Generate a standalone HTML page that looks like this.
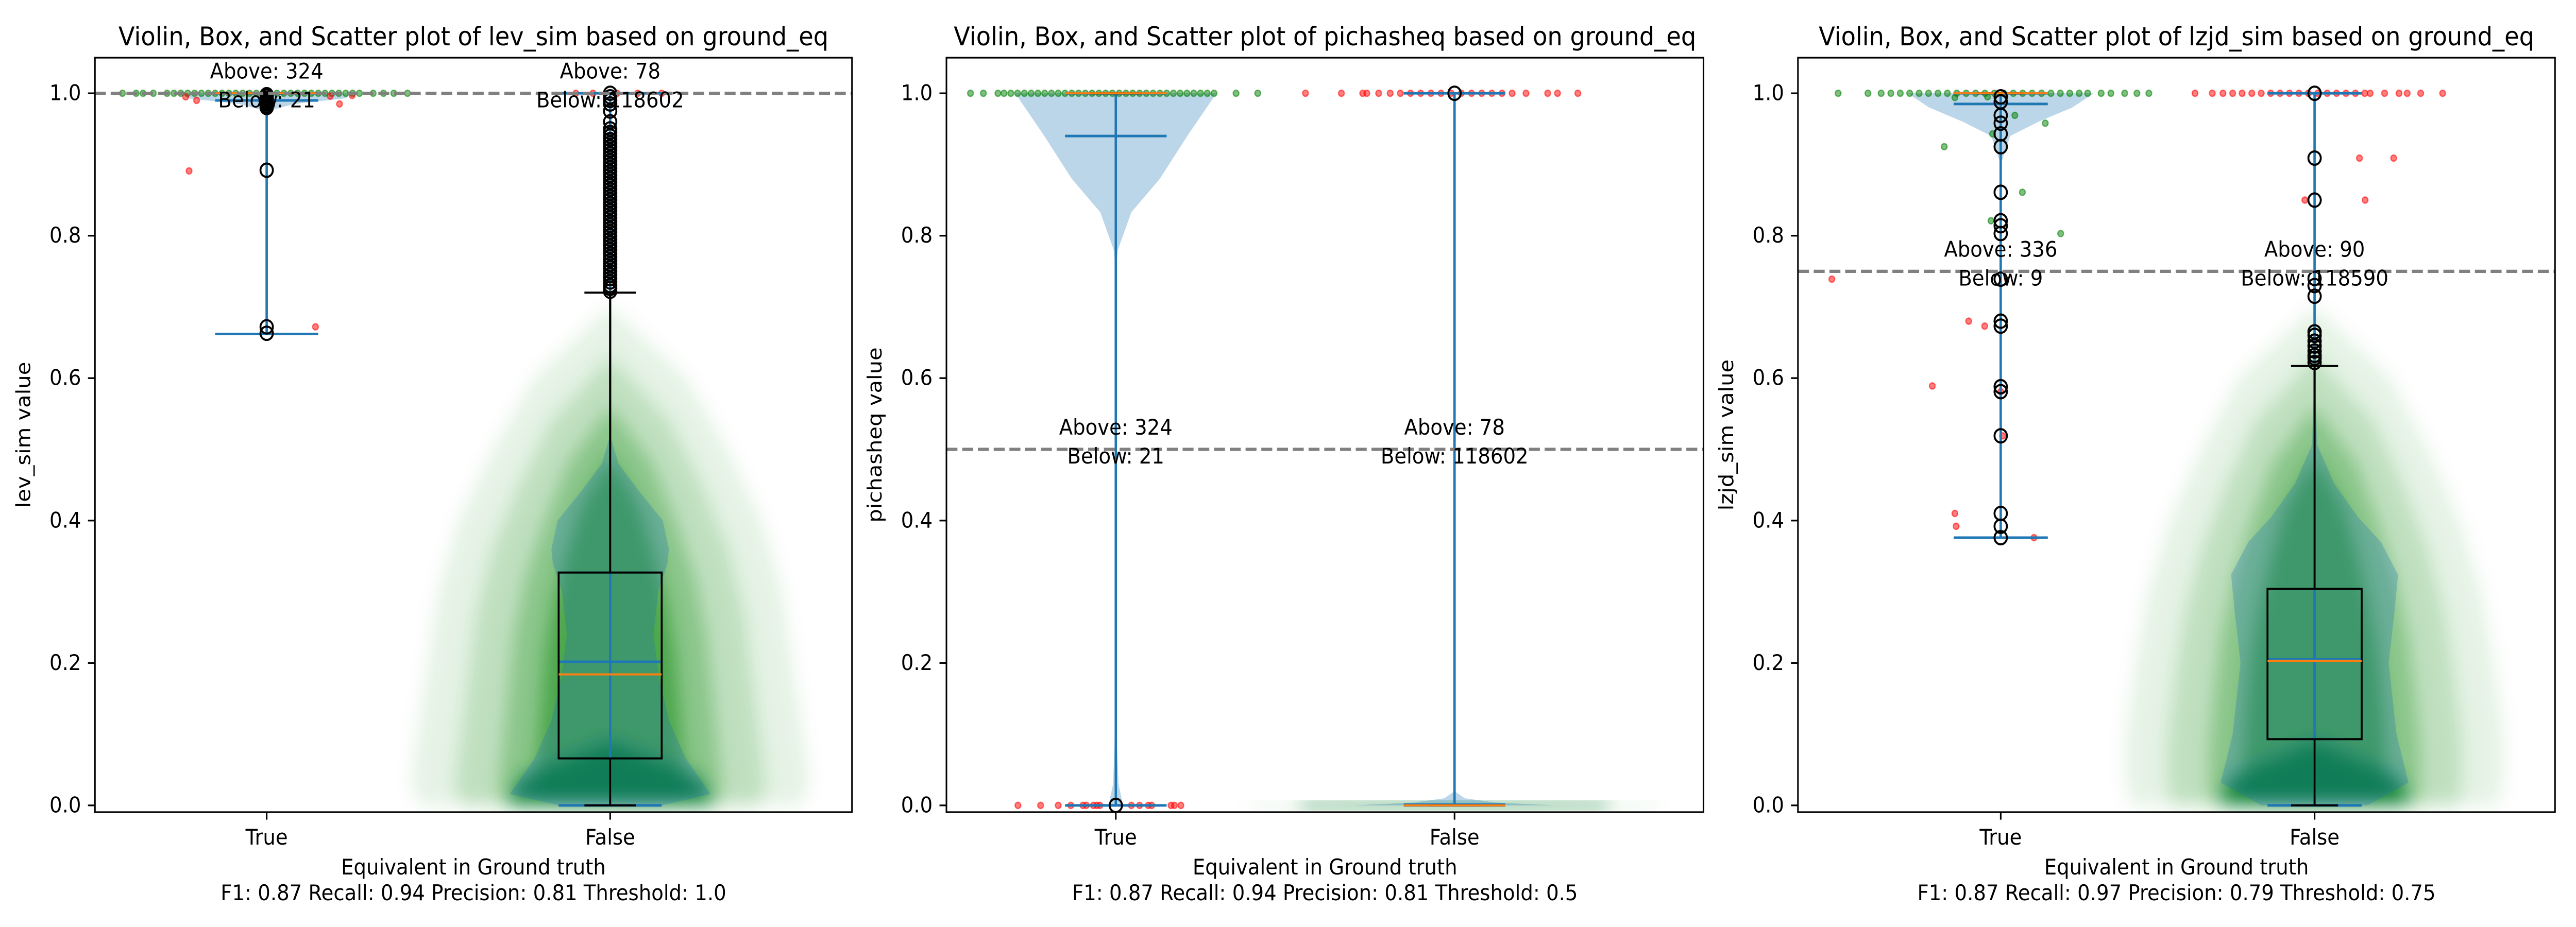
<!DOCTYPE html>
<html><head><meta charset="utf-8"><style>
html,body{margin:0;padding:0;background:#fff;width:100%;height:100%;overflow:hidden;}
svg{display:block;width:100vw;height:100vh;font-family:"DejaVu Sans","Liberation Sans",sans-serif;}
</style></head><body>
<svg id="fig" xmlns="http://www.w3.org/2000/svg" viewBox="0 0 5400 1800" preserveAspectRatio="none">
<defs>
<filter id="blur" x="-20%" y="-20%" width="140%" height="140%"><feGaussianBlur stdDeviation="18"/></filter>
<clipPath id="clip0"><rect x="199" y="112" width="1587" height="1465"/></clipPath>
<clipPath id="clip1"><rect x="1984" y="112" width="1587" height="1465"/></clipPath>
<clipPath id="clip2"><rect x="3769" y="112" width="1587" height="1465"/></clipPath>
</defs>
</svg>
<script>
// ---------- data ----------
const panelTitles = ["Violin, Box, and Scatter plot of lev_sim based on ground_eq","Violin, Box, and Scatter plot of pichasheq based on ground_eq","Violin, Box, and Scatter plot of lzjd_sim based on ground_eq"];
const yLabels = ["lev_sim value","pichasheq value","lzjd_sim value"];
const metricLines = ["F1: 0.87 Recall: 0.94 Precision: 0.81 Threshold: 1.0","F1: 0.87 Recall: 0.94 Precision: 0.81 Threshold: 0.5","F1: 0.87 Recall: 0.97 Precision: 0.79 Threshold: 0.75"];
const categories = ["True","False"];
const yTicks = [0,0.2,0.4,0.6,0.8,1.0];
const yTickLabels = ["0.0","0.2","0.4","0.6","0.8","1.0"];
const thresholds = [1.0,0.5,0.75];
const aboveCounts = [[324,78],[324,78],[336,90]];
const belowCounts = [[21,118602],[21,118602],[9,118590]];
const xDomains = [[0.5,2.704],[0.5,2.735],[0.354,2.766]];
const yDomain = [-0.0095,1.05];

// panel 1 (lev_sim)
const p1BoxQ1=[1.0,0.066], p1BoxMed=[1.0,0.184], p1BoxQ3=[1.0,0.327], p1WhiskLo=[1.0,0.0], p1WhiskHi=[1.0,0.72];
const p1VMin=[0.662,0], p1VMax=[1,1], p1VMean=[0.99,0.2017];
const p1TrueVVals=[0.662,0.975,0.985,0.993,1.0], p1TrueVHalf=[0,0.003,0.08,0.23,0.25];
const p1FalseVVals=[0,0.016,0.065,0.118,0.178,0.239,0.30,0.34,0.36,0.40,0.44,0.48,0.515,0.6,1.0];
const p1FalseVHalf=[0.149,0.292,0.221,0.172,0.143,0.126,0.14,0.167,0.171,0.153,0.086,0.024,0.003,0.001,0];
const p1TrueFliers=[0.998,0.996,0.993,0.99,0.987,0.985,0.982,0.98,0.892,0.672,0.663];
const p1FalseFliers=[0.722,0.726,0.73,0.735,0.74,0.745,0.75,0.755,0.76,0.765,0.77,0.775,0.78,0.785,0.79,0.795,0.80,0.805,0.81,0.815,0.82,0.825,0.83,0.835,0.84,0.845,0.85,0.855,0.86,0.865,0.87,0.875,0.88,0.885,0.89,0.895,0.90,0.905,0.91,0.915,0.92,0.925,0.93,0.935,0.94,0.945,0.95,0.96,0.975,0.985,0.99,0.995,1.0];
const p1CloudVals=[0,0.03,0.1,0.2,0.3,0.4,0.5,0.6,0.7];
const p1CloudHalf=[0.55,0.58,0.56,0.53,0.5,0.44,0.34,0.22,0];
const p1CoreVals=[0,0.04,0.09], p1CoreHalf=[0.3,0.26,0];
const p1GreenRowX=[-0.42,-0.38,-0.36,-0.33,-0.29,-0.27,-0.25,-0.23,-0.21,-0.19,-0.17,-0.15,-0.13,-0.11,-0.09,-0.07,-0.05,-0.03,-0.01,0.01,0.03,0.05,0.07,0.09,0.11,0.13,0.15,0.17,0.19,0.21,0.23,0.25,0.27,0.31,0.34,0.37,0.41];
const p1GreenRowY=1.0;
const p1RedX=[-0.236,-0.204,0.212,-0.226,0.185,0.249,0.142,-0.1,-0.05,0.02,0.08,0.15];
const p1RedY=[0.995,0.99,0.985,0.891,0.996,0.997,0.672,1.0,1.0,1.0,1.0,1.0];
const p1RedGroup=[0,0,0,0,0,0,0,1,1,1,1,1];

// panel 2 (pichasheq)
const p2BoxQ1=[1.0,0.0], p2BoxMed=[1.0,0.0], p2BoxQ3=[1.0,0.0], p2WhiskLo=[1.0,0.0], p2WhiskHi=[1.0,0.0];
const p2VMin=[0,0], p2VMax=[1,1], p2VMean=[0.94,0.001];
const p2TrueVVals=[0,0.01,0.03,0.08,0.15,0.22,0.3,0.75,0.78,0.833,0.88,0.94,1.0];
const p2TrueVHalf=[0.02,0.017,0.008,0.004,0.0014,0,0,0,0.006,0.046,0.13,0.211,0.297];
const p2FalseVVals=[0,0.004,0.01,0.02,1.0], p2FalseVHalf=[0.3,0.12,0.03,0,0];
const p2TrueFliers=[0.0];
const p2FalseFliers=[1.0];
const p2CloudVals=[-0.005,0.005], p2CloudHalf=[0.6,0.6];
const p2CoreVals=[-0.004,0.004], p2CoreHalf=[0.45,0.45];
const p2GreenRowX=[-0.429,-0.391,-0.348,-0.33,-0.31,-0.29,-0.27,-0.25,-0.23,-0.21,-0.19,-0.17,-0.15,-0.13,-0.11,-0.09,-0.07,-0.05,-0.03,-0.01,0.01,0.03,0.05,0.07,0.09,0.11,0.13,0.15,0.17,0.19,0.21,0.23,0.25,0.27,0.29,0.355,0.419];
const p2GreenRowY=1.0;
const p2RedX=[-0.289,-0.222,-0.17,-0.133,-0.097,-0.087,-0.066,-0.056,-0.047,0.046,0.07,0.096,0.106,0.163,0.173,0.192,
  -0.44,-0.334,-0.271,-0.259,-0.224,-0.19,-0.16,-0.13,-0.1,-0.07,-0.04,-0.01,0.02,0.05,0.08,0.11,0.14,0.17,0.211,0.275,0.304,0.364];
const p2RedY=[0,0,0,0,0,0,0,0,0,0,0,0,0,0,0,0,
  1,1,1,1,1,1,1,1,1,1,1,1,1,1,1,1,1,1,1,1,1,1];
const p2RedGroup=[0,0,0,0,0,0,0,0,0,0,0,0,0,0,0,0,
  1,1,1,1,1,1,1,1,1,1,1,1,1,1,1,1,1,1,1,1,1,1];

// panel 3 (lzjd_sim)
const p3BoxQ1=[1.0,0.093], p3BoxMed=[1.0,0.203], p3BoxQ3=[1.0,0.304], p3WhiskLo=[1.0,0.0], p3WhiskHi=[1.0,0.617];
const p3VMin=[0.376,0], p3VMax=[1,1], p3VMean=[0.985,0.205];
const p3TrueVVals=[0.375,0.9,0.94,0.96,0.98,1.0], p3TrueVHalf=[0,0,0.03,0.12,0.228,0.296];
const p3FalseVVals=[0,0.032,0.1,0.2,0.27,0.324,0.37,0.405,0.453,0.507,0.6,1.0];
const p3FalseVHalf=[0.169,0.299,0.261,0.236,0.254,0.266,0.211,0.138,0.061,0.008,0.0015,0];
const p3TrueFliers=[0.995,0.988,0.969,0.958,0.943,0.925,0.861,0.821,0.814,0.803,0.739,0.68,0.673,0.588,0.581,0.519,0.41,0.392,0.376];
const p3FalseFliers=[0.622,0.628,0.632,0.638,0.645,0.652,0.66,0.665,0.715,0.73,0.74,0.85,0.909,1.0];
const p3CloudVals=[0,0.03,0.1,0.2,0.3,0.4,0.5,0.6,0.7];
const p3CloudHalf=[0.58,0.6,0.6,0.57,0.53,0.46,0.36,0.24,0];
const p3CoreVals=[0,0.04,0.09], p3CoreHalf=[0.3,0.27,0];
const p3GreenRowX=[-0.518,-0.423,-0.381,-0.35,-0.32,-0.29,-0.26,-0.23,-0.2,-0.17,-0.14,-0.11,-0.08,-0.05,-0.02,0.01,0.04,0.07,0.1,0.13,0.16,0.19,0.22,0.25,0.277,0.32,0.351,0.395,0.434,0.472];
const p3GreenRowY=1.0;
const p3GreenX=[-0.18,0.069,-0.031,0.191,0.045,0.142,-0.026,-0.042,-0.146];
const p3GreenY=[0.925,0.861,0.821,0.803,0.969,0.958,0.943,0.995,0.994];
const p3RedX=[-0.538,-0.102,-0.051,-0.218,0.006,-0.146,-0.142,0.106,0,
  -0.381,-0.326,-0.292,-0.261,-0.231,-0.2,-0.17,-0.14,-0.11,-0.08,-0.05,-0.02,0.01,0.04,0.07,0.1,0.13,0.16,0.177,0.223,0.269,0.295,0.338,0.408,
  0.143,0.252,-0.031,0.161];
const p3RedY=[0.739,0.68,0.673,0.589,0.519,0.41,0.392,0.376,0.581,
  1,1,1,1,1,1,1,1,1,1,1,1,1,1,1,1,1,1,1,1,1,1,1,1,
  0.909,0.909,0.85,0.85];
const p3RedGroup=[0,0,0,0,0,0,0,0,0,
  1,1,1,1,1,1,1,1,1,1,1,1,1,1,1,1,1,1,1,1,1,1,1,1,
  1,1,1,1];

const panels=[
 {q1:p1BoxQ1,med:p1BoxMed,q3:p1BoxQ3,wlo:p1WhiskLo,whi:p1WhiskHi,vmin:p1VMin,vmax:p1VMax,vmean:p1VMean,
  vv:[p1TrueVVals,p1FalseVVals],vh:[p1TrueVHalf,p1FalseVHalf],fl:[p1TrueFliers,p1FalseFliers],
  cloudG:1,cv:p1CloudVals,ch:p1CloudHalf,corev:p1CoreVals,coreh:p1CoreHalf,
  grx:p1GreenRowX,gry:p1GreenRowY,gx:[],gy:[],rx:p1RedX,ry:p1RedY,rg:p1RedGroup},
 {q1:p2BoxQ1,med:p2BoxMed,q3:p2BoxQ3,wlo:p2WhiskLo,whi:p2WhiskHi,vmin:p2VMin,vmax:p2VMax,vmean:p2VMean,
  vv:[p2TrueVVals,p2FalseVVals],vh:[p2TrueVHalf,p2FalseVHalf],fl:[p2TrueFliers,p2FalseFliers],
  cloudG:1,cv:p2CloudVals,ch:p2CloudHalf,corev:p2CoreVals,coreh:p2CoreHalf,
  grx:p2GreenRowX,gry:p2GreenRowY,gx:[],gy:[],rx:p2RedX,ry:p2RedY,rg:p2RedGroup},
 {q1:p3BoxQ1,med:p3BoxMed,q3:p3BoxQ3,wlo:p3WhiskLo,whi:p3WhiskHi,vmin:p3VMin,vmax:p3VMax,vmean:p3VMean,
  vv:[p3TrueVVals,p3FalseVVals],vh:[p3TrueVHalf,p3FalseVHalf],fl:[p3TrueFliers,p3FalseFliers],
  cloudG:1,cv:p3CloudVals,ch:p3CloudHalf,corev:p3CoreVals,coreh:p3CoreHalf,
  grx:p3GreenRowX,gry:p3GreenRowY,gx:p3GreenX,gy:p3GreenY,rx:p3RedX,ry:p3RedY,rg:p3RedGroup}
];

// ---------- rendering ----------
const NS="http://www.w3.org/2000/svg";
const svg=document.getElementById('fig');
const axLefts=[199,1984,3769], axTop=112, axW=1587, axH=1465;
function mk(tag,attrs,parent){const e=document.createElementNS(NS,tag);for(const k in attrs)e.setAttribute(k,attrs[k]);(parent||svg).appendChild(e);return e;}
const BLUE="#1f77b4";

panels.forEach((P,pi)=>{
  const L=axLefts[pi], xd=xDomains[pi];
  const sx=v=>L+(v-xd[0])/(xd[1]-xd[0])*axW;
  const sy=v=>axTop+(yDomain[1]-v)/(yDomain[1]-yDomain[0])*axH;
  const g=mk('g',{'clip-path':'url(#clip'+pi+')'});
  
  

  // jitter cloud for False group
  {
    const pos=P.cloudG+1;
    const cg=mk('g',{filter:'url(#blur)'},g);
    
    
    const factors=[1,0.78,0.56,0.38], hf=[1,0.9,0.8,0.7], ops=[0.1,0.17,0.28,0.45];
    factors.forEach((f,li)=>{
      let pts=[];
      for(let i=0;i<P.cv.length;i++)pts.push(sx(pos-P.ch[i]*f)+','+sy(P.cv[i]*hf[li]));
      for(let i=P.cv.length-1;i>=0;i--)pts.push(sx(pos+P.ch[i]*f)+','+sy(P.cv[i]*hf[li]));
      const poly=mk('polygon',{points:pts.join(' '),fill:'#008000','fill-opacity':ops[li]},cg);
      
      
    });
    let pts=[];
    for(let i=0;i<P.corev.length;i++)pts.push(sx(pos-P.coreh[i])+','+sy(P.corev[i]));
    for(let i=P.corev.length-1;i>=0;i--)pts.push(sx(pos+P.coreh[i])+','+sy(P.corev[i]));
    const core=mk('polygon',{points:pts.join(' '),fill:'#007a2a','fill-opacity':0.85},cg);
    
    
  }

  // violin bodies
  [0,1].forEach(gi=>{
    const pos=gi+1, vals=P.vv[gi], hw=P.vh[gi];
    let pts=[];
    for(let i=0;i<vals.length;i++)pts.push(sx(pos-hw[i])+','+sy(vals[i]));
    for(let i=vals.length-1;i>=0;i--)pts.push(sx(pos+hw[i])+','+sy(vals[i]));
    const poly=mk('polygon',{points:pts.join(' '),fill:BLUE,'fill-opacity':0.3},g);
    
    
  });

  // scatter dots
  function dot(x,y,col,name){
    const c=mk('circle',{cx:x,cy:y,r:6,fill:col,'fill-opacity':0.5,stroke:col,'stroke-opacity':0.55,'stroke-width':2.5},g);
    
    
  }
  P.grx.forEach(o=>dot(sx(1+o),sy(P.gry),'#008000','scatter-point-green'));
  P.gx.forEach((o,i)=>dot(sx(1+o),sy(P.gy[i]),'#008000','scatter-point-green'));
  P.rx.forEach((o,i)=>dot(sx(P.rg[i]+1+o),sy(P.ry[i]),'#ff0000','scatter-point-red'));

  // violin lines
  [0,1].forEach(gi=>{
    const pos=gi+1;
    const bar=mk('line',{x1:sx(pos),x2:sx(pos),y1:sy(P.vmin[gi]),y2:sy(P.vmax[gi]),stroke:BLUE,'stroke-width':5},g);
    
    
    [P.vmin[gi],P.vmax[gi],P.vmean[gi]].forEach((v,k)=>{
      const l=mk('line',{x1:sx(pos-0.15),x2:sx(pos+0.15),y1:sy(v),y2:sy(v),stroke:BLUE,'stroke-width':5},g);
      
      
    });
  });

  // box plots
  [0,1].forEach(gi=>{
    const pos=gi+1;
    const w1=mk('line',{x1:sx(pos),x2:sx(pos),y1:sy(P.q3[gi]),y2:sy(P.whi[gi]),stroke:'#000','stroke-width':4},g);
    
    
    const w2=mk('line',{x1:sx(pos),x2:sx(pos),y1:sy(P.q1[gi]),y2:sy(P.wlo[gi]),stroke:'#000','stroke-width':4},g);
    
    
    [P.whi[gi],P.wlo[gi]].forEach(v=>{
      const c=mk('line',{x1:sx(pos-0.075),x2:sx(pos+0.075),y1:sy(v),y2:sy(v),stroke:'#000','stroke-width':4},g);
      
      
    });
    const r=mk('rect',{x:sx(pos-0.15),y:sy(P.q3[gi]),width:sx(pos+0.15)-sx(pos-0.15),height:Math.max(0,sy(P.q1[gi])-sy(P.q3[gi])),fill:'none',stroke:'#000','stroke-width':4},g);
    
    
    const m=mk('line',{x1:sx(pos-0.15),x2:sx(pos+0.15),y1:sy(P.med[gi]),y2:sy(P.med[gi]),stroke:'#ff7f0e','stroke-width':4},g);
    
    
    P.fl[gi].forEach(v=>{
      const c=mk('circle',{cx:sx(pos),cy:sy(v),r:13,fill:'none',stroke:'#000','stroke-width':4},g);
      
      
    });
  });

  // threshold line
  const th=mk('line',{x1:L,x2:L+axW,y1:sy(thresholds[pi]),y2:sy(thresholds[pi]),stroke:'#808080','stroke-width':6.25,'stroke-dasharray':'23 10'},g);
  
  

  // above/below text
  [0,1].forEach(gi=>{
    const t1=mk('text',{x:sx(gi+1),y:sy(thresholds[pi])-42,'font-size':41.7,'text-anchor':'middle','dominant-baseline':'central'});
    t1.textContent='Above: '+aboveCounts[pi][gi];
    
    
    const t2=mk('text',{x:sx(gi+1),y:sy(thresholds[pi])+14,'font-size':41.7,'text-anchor':'middle','dominant-baseline':'central'});
    t2.textContent='Below: '+belowCounts[pi][gi];
    
    
  });

  // axes frame
  const fr=mk('rect',{x:L,y:axTop,width:axW,height:axH,fill:'none',stroke:'#000','stroke-width':3.3});
  
  

  // y ticks
  yTicks.forEach((v,i)=>{
    const tk=mk('line',{x1:L-14.6,x2:L,y1:sy(v),y2:sy(v),stroke:'#000','stroke-width':3.3});
    
    
    const t=mk('text',{x:L-29,y:sy(v),'font-size':41.7,'text-anchor':'end','dominant-baseline':'central'});
    t.textContent=yTickLabels[i];
    
    
  });
  // x ticks
  categories.forEach((c,i)=>{
    const tk=mk('line',{x1:sx(i+1),x2:sx(i+1),y1:axTop+axH,y2:axTop+axH+14.6,stroke:'#000','stroke-width':3.3});
    
    
    const t=mk('text',{x:sx(i+1),y:1640,'font-size':41.7,'text-anchor':'middle'});
    t.textContent=c;
    
    
  });

  // labels
  const ti=mk('text',{x:L+axW/2,y:88,'font-size':50,'text-anchor':'middle'});
  ti.textContent=panelTitles[pi];
  
  
  const xl=mk('text',{x:L+axW/2,y:1698,'font-size':41.7,'text-anchor':'middle'});
  xl.textContent='Equivalent in Ground truth';
  
  
  const ml=mk('text',{x:L+axW/2,y:1748,'font-size':41.7,'text-anchor':'middle'});
  ml.textContent=metricLines[pi];
  
  
  const yl=mk('text',{x:0,y:0,'font-size':41.7,'text-anchor':'middle',transform:'translate('+(L-136)+','+(axTop+axH/2)+') rotate(-90)'});
  yl.textContent=yLabels[pi];
  
  
});
</script>
</body></html>
